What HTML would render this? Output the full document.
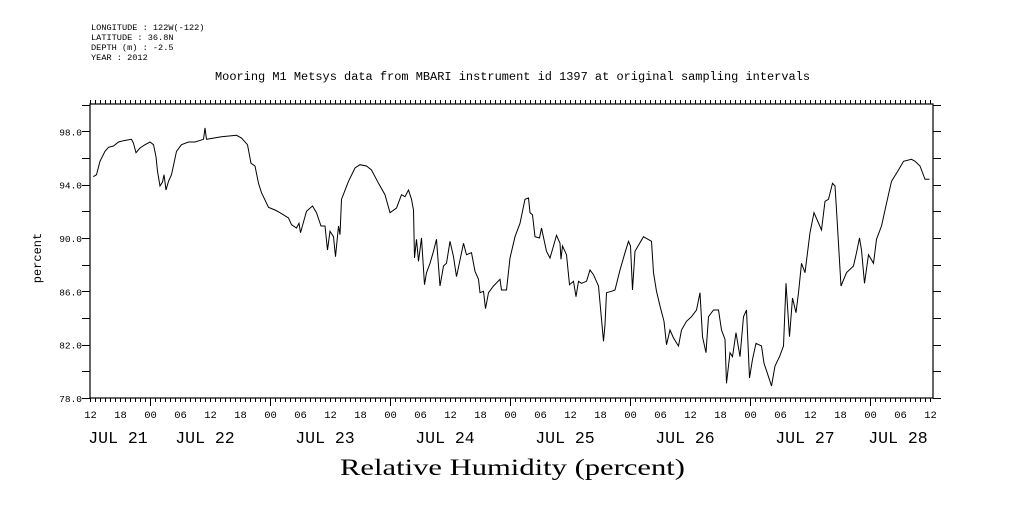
<!DOCTYPE html>
<html><head><meta charset="utf-8">
<style>
body{margin:0;background:#fff;}
svg text{font-family:"Liberation Mono",monospace;fill:#000;}
</style></head>
<body>
<svg id="chart" width="1009" height="504" viewBox="0 0 1009 504" xmlns="http://www.w3.org/2000/svg">
<g>
<text x="91" y="30" font-size="8.6">LONGITUDE : 122W(-122)</text>
<text x="91" y="40" font-size="8.6">LATITUDE : 36.8N</text>
<text x="91" y="50" font-size="8.6">DEPTH (m) : -2.5</text>
<text x="91" y="60" font-size="8.6">YEAR : 2012</text>
</g>
<text x="215" y="80" font-size="11.5" textLength="595" lengthAdjust="spacingAndGlyphs">Mooring M1 Metsys data from MBARI instrument id 1397 at original sampling intervals</text>
<text x="0" y="0" font-size="12" text-anchor="middle" transform="translate(41,258) rotate(-90)">percent</text>
<text x="340" y="475" font-size="23" style="font-family:'Liberation Serif',serif" textLength="345" lengthAdjust="spacingAndGlyphs">Relative Humidity (percent)</text>
<g id="axes"></g>
<g id="series"></g>
</svg>
<script>
const hours=[0.67,1.3,2,3,3.7,4.7,5.7,6.7,8.3,8.7,9.2,10,11,12,12.7,13.2,13.5,14,14.5,14.8,15.2,15.7,16.3,17.3,18.3,19.7,21,22.7,23,23.3,26.3,29.3,30.3,31.5,32.2,33,33.7,34.3,35.7,37,38,39.7,40.3,41.3,41.8,42.1,43.3,44.5,45.3,46.2,47,47.5,48,48.7,49.1,49.7,50,50.3,51.7,53,54,55.3,56.3,57.7,59,60,61.3,62.3,63,63.7,64.3,64.7,64.9,65.3,65.7,66.3,66.9,67.3,68,68.7,69.3,70,70.7,71.3,72,72.7,73.3,74.7,75.3,76.3,77,77.7,78,78.7,79.1,79.7,80.7,82,82.3,83.3,84,85,86,87,87.7,88,88.5,89,89.9,90.3,91.3,92,92.7,93.3,94,94.2,94.5,95.3,95.9,96.7,97.2,97.7,98.3,99.3,100,100.7,101.7,102.3,102.7,103,103.3,104.3,105,106,107,107.7,108.1,108.5,109,110.7,112.3,112.7,113.3,114,114.8,115.3,116,116.7,117.7,118.3,119.3,120.3,121.3,122,122.5,123.2,123.7,124.7,125.7,126.3,127,127.3,128,128.5,129.2,130,130.7,131.3,131.9,132.5,133.2,134.3,134.8,135.7,136.3,137,137.9,138.7,139.2,139.9,140.5,141.2,141.7,142.3,143,144,144.8,146.3,147,147.7,148.5,149,149.3,150.2,151.3,152.7,153.3,153.9,154.3,154.9,155.7,156.7,157.3,158.3,159.3,160.3,161.7,162.7,164.3,165,166,167,167.9];
const humidity=[94.6,94.75,95.75,96.5,96.8,96.9,97.2,97.3,97.4,97.1,96.4,96.75,97,97.2,97,96.1,95,93.9,94.2,94.75,93.6,94.25,94.75,96.5,97,97.2,97.2,97.4,98.25,97.4,97.6,97.7,97.5,97,95.6,95.4,94.1,93.4,92.3,92.1,91.9,91.5,91,90.75,91.1,90.4,92,92.4,91.9,90.9,90.9,89.1,90.5,90.1,88.6,90.9,90.25,92.9,94.25,95.25,95.5,95.4,95.1,94.1,93.25,91.9,92.25,93.25,93.1,93.6,92.9,92.1,88.5,89.9,88.25,90,86.5,87.4,88.1,89,89.9,86.4,87.9,88.1,89.75,88.6,87.1,89.6,88.75,88.9,87.5,86.9,85.9,86,84.7,85.9,86.4,86.9,86.1,86.1,88.5,90.1,91.1,92.9,93,91.9,91.75,90.1,90,90.75,89,88.5,89.4,90.2,89.6,88.4,89.4,88.75,86.5,86.75,85.6,86.75,86.6,86.75,87.6,87.25,86.4,83.9,82.25,83.5,85.9,86,86.1,87.6,88.9,89.75,89.4,86.1,89,90.1,89.75,87.4,86,84.9,83.75,82,83.1,82.5,81.9,83.1,83.75,84.1,84.6,85.9,82.6,81.4,84.1,84.6,84.6,83.1,82.4,79.1,81.4,81.1,82.9,81.1,84.1,84.6,79.5,80.9,82.1,81.9,80.6,79.6,78.9,80.4,81.1,81.9,86.6,82.6,85.5,84.4,85.9,88.1,87.4,90.4,91.9,90.6,92.75,92.9,94.1,93.9,92.1,86.4,87.4,87.9,88.9,90,89.1,86.6,88.75,88.1,89.9,90.9,92.6,94.25,95.1,95.75,95.9,95.75,95.4,94.4,94.4];
const yTickLabels=["78.0","82.0","86.0","90.0","94.0","98.0"];
const hourLabels=["12","18","00","06"];
const dayLabels=["JUL 21","JUL 22","JUL 23","JUL 24","JUL 25","JUL 26","JUL 27","JUL 28"];

const NS="http://www.w3.org/2000/svg";
const L=90,R=933,T=104,B=398,Y0=78,Y1=100.05,HMAX=168.6;
const xs=h=>L+(R-L)*h/HMAX;
const ys=v=>B-(B-T)*(v-Y0)/(Y1-Y0);
const axes=document.getElementById('axes');
function mk(tag,attrs,parent){const e=document.createElementNS(NS,tag);for(const k in attrs)e.setAttribute(k,attrs[k]);parent.appendChild(e);return e;}
const frame=mk('rect',{x:L,y:T,width:R-L,height:B-T,fill:'none',stroke:'#000','stroke-width':1.2},axes);


for(let h=0;h<=HMAX;h++){
  const x=Math.round(xs(h))+0.5;
  const day=(h+12)%24===0;
  const six=(h%6===0);
  mk('line',{x1:x,x2:x,y1:B,y2:B+(day?8:4),stroke:'#000'},axes);
  mk('line',{x1:x,x2:x,y1:T,y2:T-4,stroke:'#000'},axes);
  if(six){
    const t=mk('text',{x:x,y:418,'font-size':10.5,'text-anchor':'middle'},axes);
    t.textContent=hourLabels[(h/6)%4];
    
    
  }
}
dayLabels.forEach((d,i)=>{
  let h=i*24; if(i===0) h=5.6; if(i===dayLabels.length-1) h=161.6; if(i>0&&i<7) h=i*24-1;
  const t=mk('text',{x:xs(h),y:443,'font-size':16.5,'text-anchor':'middle'},axes);
  t.textContent=d;
  
  
});
for(let v=Y0;v<=100;v+=2){
  const y=Math.round(ys(v))+0.5;
  mk('line',{x1:L,x2:L-8,y1:y,y2:y,stroke:'#000'},axes);
  mk('line',{x1:R,x2:R+8,y1:y,y2:y,stroke:'#000'},axes);
}
yTickLabels.forEach(s=>{
  const t=mk('text',{x:82,y:ys(parseFloat(s))+4,'font-size':9.5,'text-anchor':'end'},axes);
  t.textContent=s;
  
  
});
const p=mk('polyline',{points:hours.map((h,i)=>xs(h).toFixed(1)+','+ys(humidity[i]).toFixed(1)).join(' '),fill:'none',stroke:'#000','stroke-width':1},document.getElementById('series'));


</script>
</body></html>
